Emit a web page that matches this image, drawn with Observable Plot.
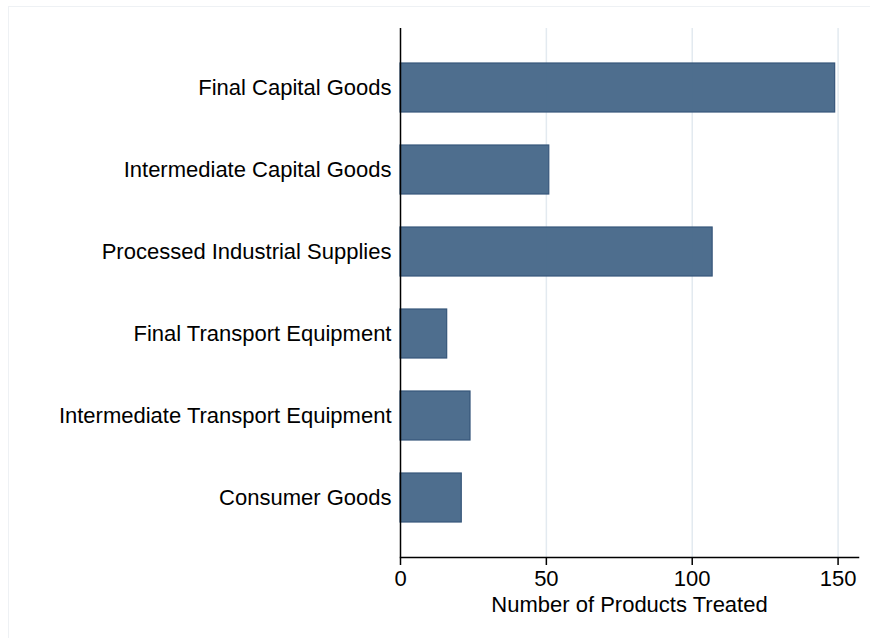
<!DOCTYPE html>
<html>
<head>
<meta charset="utf-8">
<script src="https://cdn.jsdelivr.net/npm/d3@7"></script>
<script src="https://cdn.jsdelivr.net/npm/@observablehq/plot@0.6"></script>
<style>
  html, body { margin: 0; padding: 0; background: #fff; }
  #frame { position: absolute; left: 8px; top: 6px; width: 900px; height: 700px; border: 1px solid #eef1f4; box-sizing: border-box; pointer-events: none; }
  #chart { position: absolute; left: 0; top: 0; }
  svg text { font-family: "Liberation Sans", Arial, Helvetica, sans-serif; }
</style>
</head>
<body>
<div id="frame"></div>
<div id="chart"></div>
<script>
const categories = [
  "Final Capital Goods",
  "Intermediate Capital Goods",
  "Processed Industrial Supplies",
  "Final Transport Equipment",
  "Intermediate Transport Equipment",
  "Consumer Goods"
];
const counts = [149, 51, 107, 16, 24, 21];
const xTicks = [0, 50, 100, 150];
const xTitle = "Number of Products Treated";

const data = categories.map((c, i) => ({category: c, value: counts[i]}));

const chart = Plot.plot({
  width: 870,
  height: 638,
  marginLeft: 400,
  marginRight: 12,
  marginTop: 28,
  marginBottom: 81,
  style: {fontFamily: '"Liberation Sans", Arial, Helvetica, sans-serif', fontSize: "22px", color: "#000", background: "transparent"},
  x: {domain: [0, 157], ticks: xTicks},
  y: {domain: categories, paddingInner: 0.407, paddingOuter: 0.405},
  marks: [
    Plot.gridX(xTicks.filter(d => d > 0), {stroke: "#e3eaf0", strokeOpacity: 1, strokeWidth: 1.5}),
    Plot.barX(data, {x: "value", y: "category", fill: "#48698a", fillOpacity: 0.97, stroke: "#36567a", strokeWidth: 1.2}),
    Plot.ruleX([0], {stroke: "#000", strokeWidth: 1.5}),
    Plot.frame({anchor: "bottom", stroke: "#000", strokeWidth: 1.5}),
    Plot.axisX({ticks: xTicks, tickSize: 8, tickPadding: 5, tickFormat: d => String(d), fontSize: 22, label: null, stroke: "#000", strokeWidth: 1.5}),
    Plot.axisY({tickSize: 0, tickPadding: 9, fontSize: 22, label: null}),
    Plot.text([xTitle], {frameAnchor: "bottom", dy: 54, fontSize: 22, fill: "#000"})
  ]
});
document.getElementById("chart").appendChild(chart);
</script>
</body>
</html>
